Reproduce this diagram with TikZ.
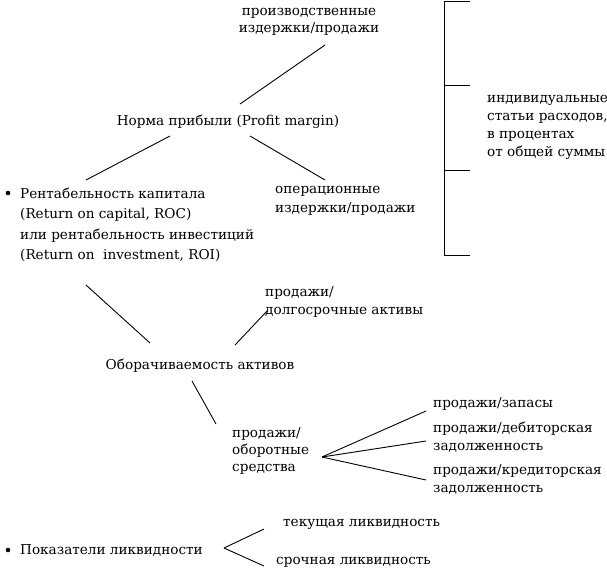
\documentclass[tikz,border=0pt]{standalone}
\usepackage{fontspec}
\setmainfont{DejaVu Serif}
\begin{document}
\begin{tikzpicture}[x=1pt,y=-1pt,
  t/.style={inner sep=0pt,align=left,anchor=west,font=\fontsize{13.6}{20.5}\selectfont},
  c/.style={inner sep=0pt,align=center,font=\fontsize{13.6}{17.5}\selectfont},
  ln/.style={line width=0.9pt}]
\useasboundingbox (0,0) rectangle (607,570);
\node[c] (pi) at (309,22) {производственные\\издержки/продажи};
\node[c] (np) at (228,122) {Норма прибыли (Profit margin)};
\node[t] (roc) at (20,225) {Рентабельность капитала\\(Return on capital, ROC)\\или рентабельность инвестиций\\(Return on\ \ investment, ROI)};
\fill (8,193) circle (2.3);
\node[t,font=\fontsize{13.6}{19}\selectfont] (oi) at (275,201) {операционные\\издержки/продажи};
\node[t,font=\fontsize{13.6}{18}\selectfont] (ind) at (487,127) {индивидуальные\\статьи расходов,\\в процентах\\от общей суммы};
\coordinate (b0) at (444,1); \coordinate (b3) at (444,255);
\draw[ln] (b0) -- (b3);
\foreach \y in {1,85,170,255} \draw[ln] (444,\y) -- (470,\y);
\draw[ln] (240,104) -- (325,45);
\draw[ln] (170,136) -- (86,180);
\draw[ln] (250,136) -- (325,180);
\node[t,font=\fontsize{13.6}{18}\selectfont] (da) at (265,302) {продажи/\\долгосрочные активы};
\node[c] (oa) at (200,366) {Оборачиваемость активов};
\draw[ln] (86,285) -- (150,343);
\draw[ln] (268,310) -- (235,345);
\draw[ln] (192,381) -- (216,424);
\node[t,font=\fontsize{13.6}{17}\selectfont] (os) at (232,451) {продажи/\\оборотные\\средства};
\coordinate (f) at (322,457);
\draw[ln] (f) -- (426,411);
\draw[ln] (f) -- (426,441);
\draw[ln] (f) -- (426,480);
\node[t] (z) at (433,404) {продажи/запасы};
\node[t,font=\fontsize{13.6}{18}\selectfont] (dz) at (433,437) {продажи/дебиторская\\задолженность};
\node[t,font=\fontsize{13.6}{18}\selectfont] (kz) at (433,479) {продажи/кредиторская\\задолженность};
\fill (8,550) circle (2.3);
\node[t] (pl) at (20,550) {Показатели ликвидности};
\coordinate (g) at (224,548);
\draw[ln] (g) -- (264,529);
\draw[ln] (g) -- (264,566);
\node[t] (tl) at (283,524) {текущая ликвидность};
\node[t] (sl) at (276,562) {срочная ликвидность};
\end{tikzpicture}
\end{document}
